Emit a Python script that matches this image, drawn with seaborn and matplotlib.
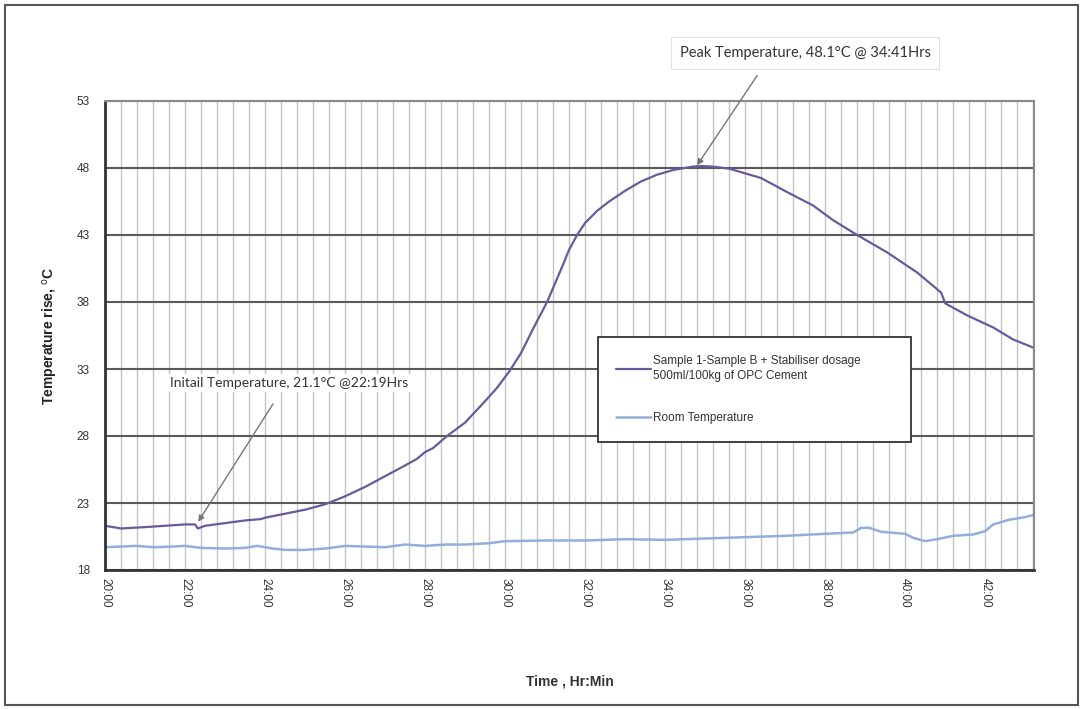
import numpy as np
import pandas as pd
import matplotlib
matplotlib.use('Agg')
import matplotlib.pyplot as plt
from matplotlib.patches import Rectangle
from matplotlib.ticker import MultipleLocator, FuncFormatter
import seaborn as sns

# ── Data (hours since midnight of day 0, deg C) ─────────────
sample_hours = [20.0, 20.4, 21.0, 21.5, 22.0, 22.25, 22.32, 22.5, 23.0, 23.5,
                23.9, 24.0, 24.5, 25.0, 25.5, 26.0, 26.5, 27.0, 27.5, 27.8,
                28.0, 28.2, 28.55, 29.0, 29.5, 29.8, 30.1, 30.4, 30.7, 31.05,
                31.45, 31.6, 31.8, 32.0, 32.3, 32.6, 33.0, 33.4, 33.8, 34.2,
                34.68, 34.9, 35.2, 35.6, 36.0, 36.4, 37.05, 37.7, 38.2, 38.8,
                39.55, 40.3, 40.9, 41.0, 41.55, 42.2, 42.7, 43.2]
sample_temp = [21.3, 21.1, 21.2, 21.3, 21.4, 21.4, 21.1, 21.3, 21.5, 21.7,
               21.8, 21.9, 22.2, 22.5, 22.9, 23.5, 24.2, 25.0, 25.8, 26.3,
               26.8, 27.1, 28.0, 29.0, 30.6, 31.6, 32.8, 34.2, 36.0, 38.0,
               40.8, 41.9, 43.0, 43.9, 44.8, 45.5, 46.3, 47.0, 47.5, 47.85,
               48.1, 48.15, 48.1, 47.95, 47.6, 47.25, 46.2, 45.2, 44.1, 43.0,
               41.7, 40.2, 38.7, 37.9, 37.0, 36.1, 35.2, 34.6]

room_hours = [20.0, 20.4, 20.8, 21.2, 21.7, 22.0, 22.4, 23.0, 23.5, 23.8,
              24.2, 24.5, 25.0, 25.5, 26.0, 26.5, 27.0, 27.5, 28.0, 28.5,
              29.0, 29.6, 30.0, 31.0, 32.0, 33.0, 34.0, 35.0, 36.0, 37.0,
              38.0, 38.7, 38.9, 39.1, 39.4, 40.0, 40.2, 40.5, 40.8, 41.2,
              41.7, 42.0, 42.2, 42.6, 43.0, 43.2]
room_temp = [19.7, 19.75, 19.8, 19.7, 19.75, 19.8, 19.65, 19.6, 19.65, 19.8,
             19.6, 19.5, 19.5, 19.6, 19.8, 19.75, 19.7, 19.9, 19.8, 19.9,
             19.9, 20.0, 20.15, 20.2, 20.2, 20.3, 20.25, 20.35, 20.45, 20.55,
             20.7, 20.8, 21.15, 21.15, 20.85, 20.7, 20.4, 20.15, 20.3, 20.55,
             20.65, 20.9, 21.4, 21.75, 21.95, 22.1]

y_ticks = [18, 23, 28, 33, 38, 43, 48, 53]

sample_label = "Sample 1-Sample B + Stabiliser dosage\n500ml/100kg of OPC Cement"
room_label = "Room Temperature"

peak_text = "Peak Temperature, 48.1°C @ 34:41Hrs"
init_text = "Initail Temperature, 21.1°C @22:19Hrs"

PURPLE = '#6a5a9c'
BLUE = '#93aedb'

# ── Style ────────────────────────────────────────────────────
sns.set_style("white")
plt.rcParams['font.family'] = ['Liberation Sans', 'DejaVu Sans']

fig = plt.figure(figsize=(10.83, 7.09), dpi=100)
ax = fig.add_axes([105 / 1083, 1 - 570 / 709, 929 / 1083, 469 / 709])

# outer frame of the chart area
fig.patches.append(Rectangle((5 / 1083, 4 / 709), 1073 / 1083, 700 / 709,
                             transform=fig.transFigure, fill=False,
                             edgecolor='#555555', linewidth=1.5))

sns.lineplot(x=sample_hours, y=sample_temp, ax=ax, color=PURPLE, lw=1.6,
             label=sample_label)
sns.lineplot(x=room_hours, y=room_temp, ax=ax, color=BLUE, lw=1.8,
             label=room_label)

ax.set_xlim(20, 43.22)
ax.set_ylim(18, 53)
ax.set_yticks(y_ticks)
ax.xaxis.set_major_locator(MultipleLocator(2))
ax.xaxis.set_minor_locator(MultipleLocator(0.4))
ax.xaxis.set_major_formatter(FuncFormatter(lambda v, p: f"{int(round(v)):02d}:00"))

ax.grid(axis='x', which='both', color='#c4c4c4', lw=1.0)
ax.grid(axis='y', which='major', color='#5a5a5a', lw=1.5)
ax.set_axisbelow(True)

for side in ['top', 'right']:
    ax.spines[side].set_color('#8a8a8a')
    ax.spines[side].set_linewidth(1.5)
for side in ['left', 'bottom']:
    ax.spines[side].set_color('#333333')
    ax.spines[side].set_linewidth(2.0)

ax.tick_params(axis='y', which='major', direction='out', length=5, width=1,
               color='#333333', labelsize=8.5, labelcolor='#333333', pad=6)
ax.tick_params(axis='x', which='major', direction='out', length=4, width=1,
               color='#333333', labelsize=8.5, labelcolor='#333333',
               labelrotation=-90, pad=2)
ax.tick_params(axis='x', which='minor', length=0)

ax.set_ylabel(r"Temperature rise, $^{\rm o}$C", fontsize=10, fontweight='bold',
              color='#222222', labelpad=12)
ax.set_xlabel("Time , Hr:Min", fontsize=10, fontweight='bold',
              color='#333333', labelpad=48)

# ── Legend ───────────────────────────────────────────────────
leg = ax.legend(loc='upper left', bbox_to_anchor=(0.531, 0.271, 0.337, 0.226),
                mode='expand', borderaxespad=0, frameon=True, fancybox=False,
                fontsize=8.5, handlelength=3.0, handletextpad=0.1,
                labelspacing=2.6, borderpad=1.5)
leg.get_frame().set_edgecolor('#333333')
leg.get_frame().set_linewidth(1.3)
leg.get_frame().set_alpha(1)
for txt in leg.get_texts():
    txt.set_color('#333333')
    txt.set_linespacing(1.35)

# ── Annotations ──────────────────────────────────────────────
arrow_kw = dict(arrowstyle='-|>', color='#777777', lw=1.0, mutation_scale=9,
                shrinkA=0, shrinkB=0)

ax.text(37.5, 56.6, peak_text, ha='center', va='center', fontsize=10.5,
        color='#333333', family=['Lato', 'DejaVu Sans'], clip_on=False,
        bbox=dict(boxstyle='square,pad=0.6', fc='white', ec='#e0e0e0', lw=0.8))
ax.annotate('', xy=(34.8, 48.2), xytext=(36.3, 54.9),
            arrowprops=arrow_kw, annotation_clip=False)

ax.text(24.6, 31.95, init_text, ha='center', va='center', fontsize=10,
        color='#333333', family=['Lato', 'DejaVu Sans'],
        bbox=dict(boxstyle='square,pad=0.2', fc='white', ec='none'))
ax.annotate('', xy=(22.33, 21.6), xytext=(24.2, 30.4), arrowprops=arrow_kw)

fig.savefig('out.png', dpi=100)
